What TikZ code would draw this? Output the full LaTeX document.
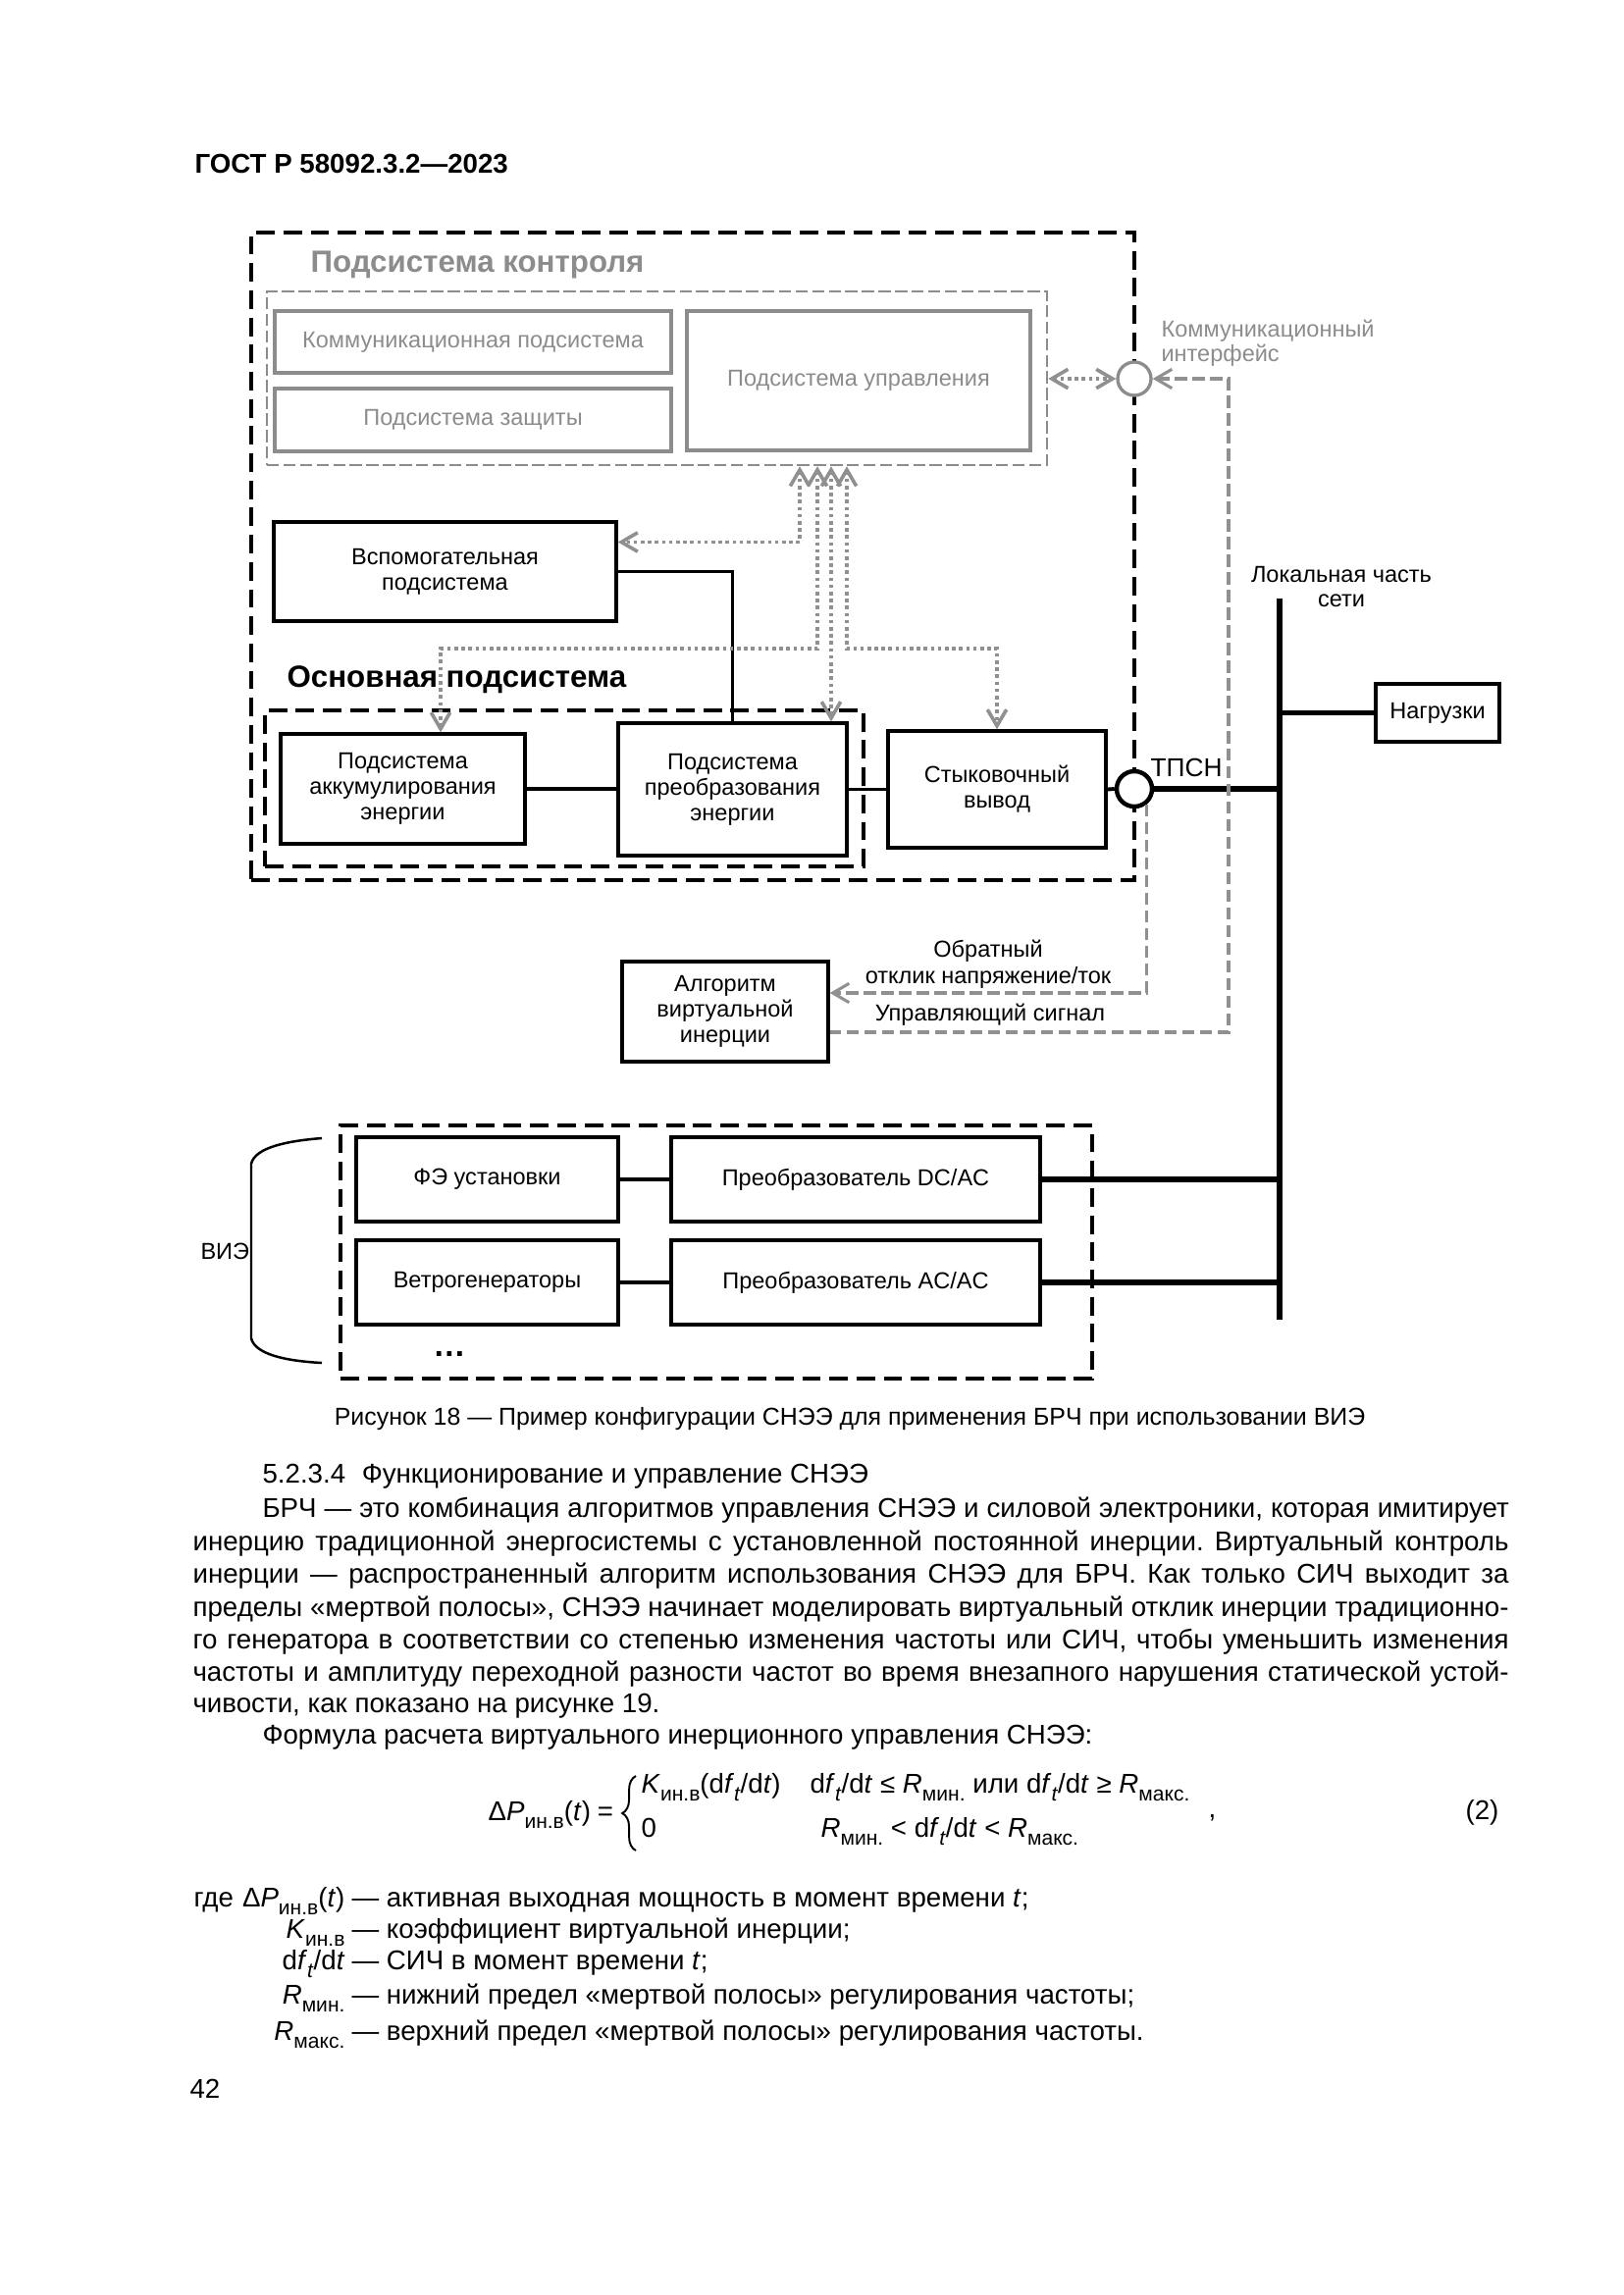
\documentclass[tikz,border=0pt]{standalone}
\usepackage{fontspec}
\setmainfont{Liberation Sans}
\usetikzlibrary{arrows.meta,decorations.pathreplacing}
\frenchspacing

\newdimen\px \px=0.12697mm
\definecolor{ctlgray}{HTML}{8C8C8C}
\definecolor{linkgray}{HTML}{909090}
\newcommand{\lbl}{\fontsize{8.5}{9.4}\selectfont}
\newcommand{\bodyfont}{\fontsize{10}{12}\selectfont}
\newcommand{\subt}[1]{\raisebox{-0.3em}{\fontsize{7.6}{8}\selectfont #1}}

\tikzset{
  barb/.tip={Straight Barb[length=6pt,width=7pt]},
  blk/.style={draw, line width=1.2pt, align=center, inner sep=0pt, font=\lbl},
  gblk/.style={blk, draw=ctlgray, text=ctlgray},
  grp/.style={draw, line width=1.2pt, dash pattern=on 6.8pt off 3.2pt, inner sep=0pt},
  ggrp/.style={draw=ctlgray, line width=0.9pt, dash pattern=on 4.5pt off 1.6pt, inner sep=0pt},
  ttl/.style={font=\bfseries\fontsize{11.3}{13}\selectfont, inner sep=0pt, anchor=base west},
  txt/.style={font=\lbl, inner sep=0pt, anchor=base},
  body/.style={font=\bodyfont, inner sep=0pt, anchor=base west},
  link/.style={line width=1.4pt},
  heavy/.style={line width=2pt},
  bus/.style={line width=2.4pt},
  ctlink/.style={draw=linkgray, line width=1.3pt, dash pattern=on 1.3pt off 1.3pt, barb-barb},
  sig/.style={draw=linkgray, line width=1.1pt, dash pattern=on 4.5pt off 2pt},
}

\begin{document}
\begin{tikzpicture}[x=0.12697mm,y=-0.12697mm]
    \useasboundingbox (0,0) rectangle (1654,2339);
    \fill[white] (0,0) rectangle (1654,2339);
    \node[body, font=\bfseries\fontsize{10}{12}\selectfont] (hdr) at (198,177) {ГОСТ Р 58092.3.2—2023};

    %control subsystem
    \node[grp, minimum width=900\px, minimum height=660\px] (sys) at (706,567) {};
    \node[ttl, text=ctlgray] (ctltitle) at (316,277) {Подсистема контроля};
    \node[ggrp, minimum width=795\px, minimum height=177\px] (ctrl) at (669.5,385.5) {};
    \node[gblk, minimum width=404\px, minimum height=63\px] (comm) at (482,348.5) {Коммуникационная подсистема};
    \node[gblk, minimum width=404\px, minimum height=64\px] (prot) at (482,428) {Подсистема защиты};
    \node[gblk, minimum width=350\px, minimum height=142\px] (mgmt) at (875,388) {Подсистема управления};
    \node[circle, draw=ctlgray, line width=1.2pt, fill=white, minimum size=34\px, inner sep=0pt] (ci) at (1156,386) {};
    \node[txt, anchor=base west, text=ctlgray] (cit1) at (1183,343) {Коммуникационный};
    \node[txt, anchor=base west, text=ctlgray] (cit2) at (1183,368) {интерфейс};

    %main subsystem
    \node[blk, minimum width=349\px, minimum height=101\px] (aux) at (453.5,582.5) {Вспомогательная\\подсистема};
    \node[ttl] (maintitle) at (292,700) {Основная подсистема};
    \node[grp, minimum width=610\px, minimum height=159\px] (mainsys) at (575,803.5) {};
    \node[blk, minimum width=249\px, minimum height=112\px] (acc) at (410.5,804) {Подсистема\\аккумулирования\\энергии};
    \node[blk, minimum width=233\px, minimum height=135\px] (conv) at (746.5,804.5) {Подсистема\\преобразования\\энергии};
    \node[blk, minimum width=222\px, minimum height=119\px] (dock) at (1016,804.5) {Стыковочный\\вывод};
    \node[circle, draw, line width=1.6pt, fill=white, minimum size=36\px, inner sep=0pt] (pcc) at (1156,804) {};
    \node[anchor=base west, inner sep=0pt, font=\fontsize{9.5}{11}\selectfont] (pcctext) at (1172,791) {ТПСН};

    %grid
    \coordinate (bustop) at (1304,610);
    \coordinate (busbot) at (1304,1345);
    \draw[bus] (bustop) -- (busbot);
    \node[txt] (loc1) at (1367,593) {Локальная часть};
    \node[txt] (loc2) at (1367,618) {сети};
    \node[blk, minimum width=126\px, minimum height=59\px] (load) at (1465,726.5) {Нагрузки};

    %virtual inertia
    \node[blk, minimum width=210\px, minimum height=102\px] (algo) at (739,1031) {Алгоритм\\виртуальной\\инерции};
    \node[txt] (fb1) at (1007,975) {Обратный};
    \node[txt] (fb2) at (1007,1002) {отклик напряжение/ток};
    \node[txt] (cs1) at (1009,1040) {Управляющий сигнал};

    %renewables
    \node[grp, minimum width=766\px, minimum height=258\px] (res) at (730,1276) {};
    \node[blk, minimum width=267\px, minimum height=86\px] (pv) at (496.5,1202) {ФЭ установки};
    \node[blk, minimum width=376\px, minimum height=86\px] (dcac) at (872,1202) {Преобразователь DC/AC};
    \node[blk, minimum width=267\px, minimum height=86\px] (wind) at (496.5,1307) {Ветрогенераторы};
    \node[blk, minimum width=376\px, minimum height=86\px] (acac) at (872,1307) {Преобразователь AC/AC};
    \node[inner sep=0pt, font=\bfseries\large] (more) at (458,1380) {…};
    \node[txt, anchor=base west] (vie) at (204,1283) {ВИЭ};
    \draw[line width=0.9pt] (328,1160) .. controls (290,1163) and (260,1170) .. (256,1186) -- (256,1364) .. controls (260,1380) and (290,1387) .. (328,1389);

    %power links
    \draw[link] (acc.east) -- (acc.east -| conv.west);
    \draw[link] (conv.east |- dock.west) -- (dock.west);
    \draw[link] (dock.east) -- (pcc.west);
    \draw[heavy] (pcc.east) -- (pcc.east -| bustop);
    \draw[link] (aux.east) -| (conv.north);
    \draw[heavy] (load.west) -- (load.west -| bustop);
    \draw[link] (pv) -- (dcac);
    \draw[link] (wind) -- (acac);
    \draw[heavy] (dcac.east) -- (dcac.east -| bustop);
    \draw[heavy] (acac.east) -- (acac.east -| bustop);

    %control links
    \draw[ctlink] ([xshift=145.5\px]ctrl.south) |- ([yshift=30\px]aux.east);
    \draw[ctlink] ([xshift=163.5\px]ctrl.south) -- ++(0,186) -| ([xshift=38.5\px]acc.north);
    \draw[ctlink] ([xshift=177.5\px]ctrl.south) -- ([xshift=100.5\px]conv.north);
    \draw[ctlink] ([xshift=193.5\px]ctrl.south) -- ++(0,186) -| (dock.north);
    \draw[ctlink] (ctrl.east |- ci.west) -- (ci.west);

    %signals
    \coordinate (cs) at (1252,1052);
    \draw[sig, barb-] (ci.east) -| (cs) -- (cs -| algo.east);
    \draw[sig, -barb] (pcc.-52) |- ([yshift=19\px]algo.east);

    %caption and text
    \node[anchor=base, inner sep=0pt, font=\fontsize{9}{11}\selectfont] (cap) at (866,1452) {Рисунок 18 — Пример конфигурации СНЭЭ для применения БРЧ при использовании ВИЭ};
    \node[body] (sec) at (267,1511) {5.2.3.4\hspace{0.6em}Функционирование и управление СНЭЭ};
    \node[body] (p1) at (267,1546) {\makebox[1270\px][s]{БРЧ — это комбинация алгоритмов управления СНЭЭ и силовой электроники, которая имитирует}};
    \node[body] (p2) at (196,1580) {\makebox[1341\px][s]{инерцию традиционной энергосистемы с установленной постоянной инерции. Виртуальный контроль}};
    \node[body] (p3) at (196,1613) {\makebox[1341\px][s]{инерции — распространенный алгоритм использования СНЭЭ для БРЧ. Как только СИЧ выходит за}};
    \node[body] (p4) at (196,1647) {\makebox[1341\px][s]{пределы «мертвой полосы», СНЭЭ начинает моделировать виртуальный отклик инерции традиционно-}};
    \node[body] (p5) at (196,1680) {\makebox[1341\px][s]{го генератора в соответствии со степенью изменения частоты или СИЧ, чтобы уменьшить изменения}};
    \node[body] (p6) at (196,1713) {\makebox[1341\px][s]{частоты и амплитуду переходной разности частот во время внезапного нарушения статической устой-}};
    \node[body] (p7) at (196,1745) {чивости, как показано на рисунке 19.};
    \node[body] (p8) at (267,1777) {Формула расчета виртуального инерционного управления СНЭЭ:};

    %formula
    \node[body] (fl) at (497,1855) {Δ\textit{P}\subt{ин.в}(\textit{t})\hspace{0.25em}=};
    \draw[decorate, decoration={brace, amplitude=5pt}, line width=0.7pt] (648,1886) -- (648,1810);
    \node[body] (f1a) at (653,1827) {\textit{K}\subt{ин.в}(d\textit{f}\subt{\textit{t}}/d\textit{t})};
    \node[body] (f1b) at (825,1827) {d\textit{f}\subt{\textit{t}}/d\textit{t} ≤ \textit{R}\subt{мин.} или d\textit{f}\subt{\textit{t}}/d\textit{t} ≥ \textit{R}\subt{макс.}};
    \node[body] (f2a) at (653,1872) {0};
    \node[body] (f2b) at (836,1872) {\textit{R}\subt{мин.} < d\textit{f}\subt{\textit{t}}/d\textit{t} < \textit{R}\subt{макс.}};
    \node[body] (fc) at (1231,1852) {,};
    \node[body, anchor=base east] (eqn) at (1528,1854) {(2)};

    %where
    \node[body] (w0) at (197,1943) {где};
    \node[body, anchor=base east] (w1) at (352,1943) {Δ\textit{P}\subt{ин.в}(\textit{t})};
    \node[body] (d1) at (358,1943) {— активная выходная мощность в момент времени \textit{t};};
    \node[body, anchor=base east] (w2) at (352,1975) {\textit{K}\subt{ин.в}};
    \node[body] (d2) at (358,1975) {— коэффициент виртуальной инерции;};
    \node[body, anchor=base east] (w3) at (352,2007) {d\textit{f}\subt{\textit{t}}/d\textit{t}};
    \node[body] (d3) at (358,2007) {— СИЧ в момент времени \textit{t};};
    \node[body, anchor=base east] (w4) at (352,2042) {\textit{R}\subt{мин.}};
    \node[body] (d4) at (358,2042) {— нижний предел «мертвой полосы» регулирования частоты;};
    \node[body, anchor=base east] (w5) at (352,2079) {\textit{R}\subt{макс.}};
    \node[body] (d5) at (358,2079) {— верхний предел «мертвой полосы» регулирования частоты.};
    \node[body] (pg) at (193,2138) {42};
\end{tikzpicture}
\end{document}
